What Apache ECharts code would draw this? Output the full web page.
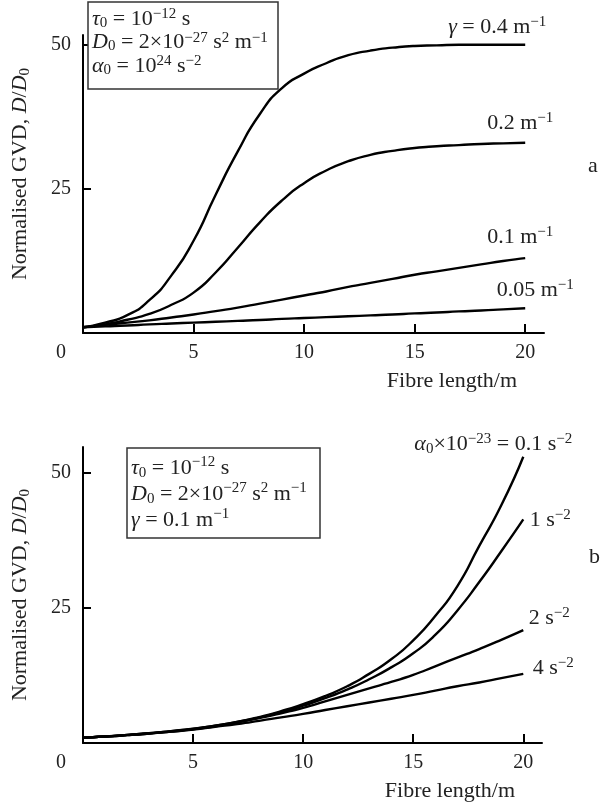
<!DOCTYPE html>
<html>
<head>
<meta charset="utf-8">
<script src="https://cdn.jsdelivr.net/npm/echarts@6/dist/echarts.min.js"></script>
<style>
html, body { margin: 0; padding: 0; background: #fff; }
#main { width: 602px; height: 807px; }
</style>
</head>
<body>
<div id="main"></div>
<script>
// fibre length, m
var fibreLength = [0, 1, 2, 3, 4, 5, 6, 7, 8, 9, 10, 11, 12, 13, 14, 15, 16, 17, 18, 19, 20];

// panel a: normalised GVD for several gamma
var gamma04 = [1, 1.8, 3.1, 5.7, 10, 16, 24, 31.5, 38, 42.5, 45.0, 46.8, 48.2, 49.0, 49.5, 49.8, 49.9, 50, 50, 50, 50];
var gamma02 = [1, 1.5, 2.3, 3.3, 4.9, 7.0, 10.5, 14.8, 19.2, 23, 26, 28.2, 29.8, 30.9, 31.6, 32.1, 32.4, 32.6, 32.8, 32.9, 33.0];
var gamma01 = [1, 1.4, 1.8, 2.2, 2.7, 3.2, 3.8, 4.4, 5.1, 5.8, 6.5, 7.2, 8.0, 8.7, 9.4, 10.1, 10.7, 11.3, 11.9, 12.5, 13.0];
var gamma005 = [1, 1.15, 1.3, 1.5, 1.65, 1.8, 1.95, 2.1, 2.25, 2.45, 2.6, 2.75, 2.9, 3.05, 3.2, 3.4, 3.55, 3.75, 3.9, 4.1, 4.3];
var gammaLabels = ['{i|γ} = 0.4 m{sup|−1}', '0.2 m{sup|−1}', '0.1 m{sup|−1}', '0.05 m{sup|−1}'];

// panel b: normalised GVD for several alpha0
var alpha01 = [1, 1.2, 1.5, 1.8, 2.2, 2.65, 3.2, 3.9, 4.8, 5.9, 7.2, 8.7, 10.5, 12.8, 15.5, 19, 23.5, 29, 36.5, 44, 53];
var alpha1 = [1, 1.2, 1.5, 1.8, 2.2, 2.6, 3.2, 3.9, 4.7, 5.7, 6.9, 8.3, 9.9, 11.8, 14.0, 16.6, 20, 24.5, 29.8, 35.5, 41.4];
var alpha2 = [1, 1.2, 1.45, 1.75, 2.1, 2.55, 3.1, 3.8, 4.6, 5.5, 6.5, 7.7, 8.9, 10.1, 11.3, 12.6, 14.2, 15.8, 17.4, 19.1, 20.9];
var alpha4 = [1, 1.2, 1.45, 1.75, 2.1, 2.5, 3.0, 3.5, 4.1, 4.75, 5.4, 6.1, 6.8, 7.5, 8.2, 8.9, 9.7, 10.5, 11.2, 12.0, 12.8];
var alphaLabels = ['{i|α}{sub|0}×10{sup|−23} = 0.1 s{sup|−2}', '1 s{sup|−2}', '2 s{sup|−2}', '4 s{sup|−2}'];

// ticks
var xTicks = [5, 10, 15, 20];
var xTickLabels = [0, 5, 10, 15, 20];
var yTicks = [25, 50];

var topBoxText = '{i|τ}{sub|0} = 10{sup|−12} s\n{i|D}{sub|0} = 2×10{sup|−27} s{sup|2} m{sup|−1}\n{i|α}{sub|0} = 10{sup|24} s{sup|−2}';
var bottomBoxText = '{i|τ}{sub|0} = 10{sup|−12} s\n{i|D}{sub|0} = 2×10{sup|−27} s{sup|2} m{sup|−1}\n{i|γ} = 0.1 m{sup|−1}';

var F = '"Liberation Serif", "DejaVu Serif", serif';
var TXT = '#222';
var FS = 22;   // main text
var FSS = 15;  // sub / superscript

// rich styles for echarts labels
var richE = {
	i: { fontFamily: F, fontSize: FS, fontStyle: 'italic', color: TXT },
	sub: { fontFamily: F, fontSize: FSS, color: TXT, verticalAlign: 'bottom', lineHeight: 13 },
	sup: { fontFamily: F, fontSize: FSS, color: TXT, verticalAlign: 'top', lineHeight: 13 },
	z: { fontFamily: F, fontSize: 20, color: TXT, padding: [0, 44, 0, 0] }
};
// same for zrender graphic text
var richG = {
	i: { fontFamily: F, fontSize: FS, fontStyle: 'italic', fill: TXT },
	sub: { fontFamily: F, fontSize: FSS, fill: TXT, verticalAlign: 'bottom', lineHeight: 13 },
	sup: { fontFamily: F, fontSize: FSS, fill: TXT, verticalAlign: 'top', lineHeight: 13 }
};

function pairs(values) {
	return fibreLength.map(function (x, i) { return [x, values[i]]; });
}

function curve(values, idx, label, offset) {
	return {
		type: 'line',
		xAxisIndex: idx,
		yAxisIndex: idx,
		data: pairs(values),
		smooth: 0.6,
		showSymbol: false,
		symbol: 'none',
		silent: true,
		lineStyle: { color: '#000', width: 2.4 },
		endLabel: {
			show: true,
			formatter: function () { return label; },
			align: 'center',
			verticalAlign: 'middle',
			distance: 0,
			offset: offset,
			fontFamily: F,
			fontSize: FS,
			lineHeight: 25,
			color: TXT,
			rich: richE
		}
	};
}

function xAxis(idx, max) {
	return {
		gridIndex: idx,
		type: 'value',
		min: 0,
		max: max,
		axisLine: { show: true, onZero: false, lineStyle: { color: '#000', width: 2 } },
		axisTick: { show: true, inside: true, length: 9, customValues: xTicks, lineStyle: { color: '#000', width: 2 } },
		axisLabel: {
			customValues: xTickLabels,
			margin: 10,
			fontFamily: F,
			fontSize: 20,
			color: TXT,
			formatter: function (v) { return v === 0 ? '{z|0}' : String(v); },
			rich: richE
		},
		splitLine: { show: false },
		name: 'Fibre length/m',
		nameLocation: 'end',
		nameGap: -27,
		nameTextStyle: { align: 'right', verticalAlign: 'top', padding: [37, 0, 0, 0], fontFamily: F, fontSize: FS, color: TXT }
	};
}

function yAxis(idx, max, shift) {
	return {
		gridIndex: idx,
		type: 'value',
		min: 0,
		max: max,
		axisLine: { show: true, onZero: false, lineStyle: { color: '#000', width: 2 } },
		axisTick: { show: true, inside: true, length: 8, customValues: yTicks, lineStyle: { color: '#000', width: 2 } },
		axisLabel: { customValues: yTicks, margin: 12, fontFamily: F, fontSize: 20, color: TXT },
		splitLine: { show: false },
		name: 'Normalised GVD, {i|D}/{i|D}{sub|0}',
		nameLocation: 'middle',
		nameRotate: 90,
		nameGap: 50,
		nameTextStyle: { fontFamily: F, fontSize: FS, lineHeight: 25, color: TXT, rich: richE, padding: [0, 0, 0, shift] }
	};
}

var myChart = echarts.init(document.getElementById('main'), null, { renderer: 'canvas' });

var option = {
	animation: false,
	backgroundColor: '#fff',
	grid: [
		{ left: 79, top: 35, width: 465, height: 298 },
		{ left: 81, top: 447, width: 461, height: 296 }
	],
	xAxis: [xAxis(0, 20.85), xAxis(1, 20.85)],
	yAxis: [yAxis(0, 51.7, 20), yAxis(1, 54.8, 0)],
	series: [
		curve(gamma04, 0, gammaLabels[0], [-28, -18]),
		curve(gamma02, 0, gammaLabels[1], [-5, -20]),
		curve(gamma01, 0, gammaLabels[2], [-5, -21]),
		curve(gamma005, 0, gammaLabels[3], [10, -18]),
		curve(alpha01, 1, alphaLabels[0], [-30, -13]),
		curve(alpha1, 1, alphaLabels[1], [27, 1]),
		curve(alpha2, 1, alphaLabels[2], [26, -12]),
		curve(alpha4, 1, alphaLabels[3], [30, -6])
	],
	graphic: [
		{ type: 'rect', z: 10, shape: { x: 88, y: 2, width: 190, height: 87 }, style: { fill: '#fff', stroke: '#333', lineWidth: 1.5 } },
		{ type: 'text', z: 11, x: 92, y: 7, style: { text: topBoxText, fontFamily: F, fontSize: FS, lineHeight: 23.5, fill: TXT, rich: richG } },
		{ type: 'rect', z: 10, shape: { x: 127, y: 448, width: 193, height: 90 }, style: { fill: '#fff', stroke: '#333', lineWidth: 1.5 } },
		{ type: 'text', z: 11, x: 131, y: 455, style: { text: bottomBoxText, fontFamily: F, fontSize: FS, lineHeight: 26, fill: TXT, rich: richG } },
		{ type: 'text', x: 588, y: 155, style: { text: 'a', fontFamily: F, fontSize: FS, fill: TXT } },
		{ type: 'text', x: 589, y: 546, style: { text: 'b', fontFamily: F, fontSize: FS, fill: TXT } }
	]
};

myChart.setOption(option);

window.addEventListener('resize', function () {
	myChart.resize();
});
</script>
</body>
</html>
